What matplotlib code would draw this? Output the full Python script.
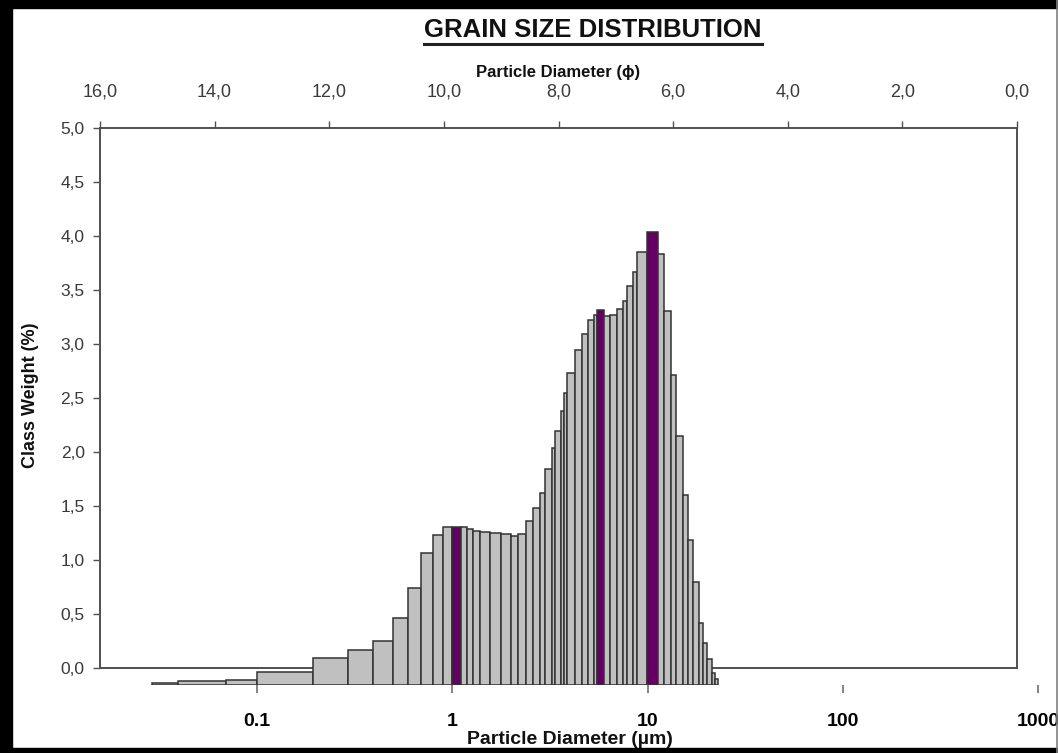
import numpy as np
import matplotlib
matplotlib.use('Agg')
import matplotlib.pyplot as plt
from matplotlib.ticker import FuncFormatter, NullLocator
from matplotlib.patches import Rectangle
from matplotlib.lines import Line2D

# class boundaries (um) and class weights (%)
edges_um = [0.0290, 0.0394, 0.0694, 0.1, 0.1936, 0.2924, 0.3927, 0.4971,
            0.5969, 0.6916, 0.7968, 0.8966, 0.997, 1.109, 1.190, 1.277,
            1.387, 1.561, 1.787, 2.000, 2.179, 2.386, 2.592, 2.815, 2.985,
            3.231, 3.360, 3.593, 3.736, 3.884, 4.254, 4.603, 4.975, 5.321,
            5.493, 5.987, 6.427, 6.958, 7.464, 7.879, 8.400, 8.868, 9.906,
            11.36, 12.15, 13.15, 14.05, 15.26, 16.18, 17.16, 18.36, 19.31,
            20.24, 21.32, 22.17, 23.05]
weights = [0.02, 0.04, 0.045, 0.12, 0.25, 0.32, 0.41, 0.62, 0.90, 1.22,
           1.39, 1.46, 1.46, 1.46, 1.44, 1.43, 1.42, 1.41, 1.40, 1.38,
           1.40, 1.52, 1.64, 1.78, 2.00, 2.19, 2.35, 2.54, 2.70, 2.89,
           3.10, 3.25, 3.38, 3.43, 3.47, 3.42, 3.43, 3.48, 3.56, 3.69,
           3.82, 4.01, 4.19, 3.99, 3.46, 2.87, 2.31, 1.76, 1.34, 0.95,
           0.57, 0.39, 0.24, 0.11, 0.06]
modes_um = [1.05, 5.7, 10.6]

phi_ticks = [16, 14, 12, 10, 8, 6, 4, 2, 0]
y_ticks = [0, 0.5, 1.0, 1.5, 2.0, 2.5, 3.0, 3.5, 4.0, 4.5, 5.0]
um_ticks = [0.1, 1, 10, 100, 1000]
um_labels = ['0.1', '1', '10', '100', '1000']

W, H = 1058, 753
FONT = ['Liberation Sans', 'DejaVu Sans']
plt.rcParams['font.family'] = FONT

fig = plt.figure(figsize=(W / 100, H / 100), dpi=100)


def box(x0, y0, x1, y1):
    # pixel box (origin top left) -> figure rect
    return [x0 / W, 1 - y1 / H, (x1 - x0) / W, (y1 - y0) / H]


comma = FuncFormatter(lambda v, p: f'{v:.1f}'.replace('.', ','))

# frame with phi scale on top
ax = fig.add_axes(box(100, 128, 1017, 668))
ax.set_xlim(16, 0)
ax.set_ylim(0, 5)
ax.set_xticks(phi_ticks)
ax.set_yticks(y_ticks)
ax.xaxis.set_major_formatter(comma)
ax.yaxis.set_major_formatter(comma)
ax.tick_params(axis='x', top=True, bottom=False, labeltop=True, labelbottom=False,
               length=5, width=1, color='#505050', pad=15, labelsize=13,
               labelcolor='#3a3a3a')
ax.tick_params(axis='y', length=5, width=1, color='#505050', pad=6,
               labelsize=12.5, labelcolor='#3a3a3a')
for s in ax.spines.values():
    s.set_color('#505050')
    s.set_linewidth(1.4)

# histogram on log um scale
px_dec = 195.25
ax2 = fig.add_axes(box(100, 128, 1040, 685))
ax2.set_zorder(2)
ax2.patch.set_visible(False)
ax2.set_xscale('log')
ax2.set_xlim(0.1 * 10 ** ((100 - 257) / px_dec), 0.1 * 10 ** ((1040 - 257) / px_dec))
ax2.set_ylim(0, (685 - 128) / 108)

edges = np.array(edges_um)
lefts = edges[:-1]
widths = np.diff(edges)
colors = []
for a, b in zip(edges[:-1], edges[1:]):
    hit = any(a <= m < b for m in modes_um)
    colors.append('#640064' if hit else '#c0c0c0')
ax2.bar(lefts, weights, width=widths, align='edge', color=colors,
        edgecolor='#333333', linewidth=1.1)

ax2.set_xticks(um_ticks)
ax2.set_xticklabels(um_labels, fontsize=14, fontweight='bold')
ax2.xaxis.set_minor_locator(NullLocator())
ax2.tick_params(axis='x', length=6, width=1.2, color='#707070', pad=14)
ax2.set_yticks([])
for s in ax2.spines.values():
    s.set_visible(False)

# texts
title = fig.text(593 / W, 1 - 30 / H, 'GRAIN SIZE DISTRIBUTION', ha='center',
                 va='center', fontsize=18.5, fontweight='bold', color='#111111')
fig.text(558 / W, 1 - 73 / H, 'Particle Diameter (ϕ)', ha='center', va='center',
         fontsize=12, fontweight='bold', color='#111111')
fig.text(31 / W, 1 - 395 / H, 'Class Weight (%)', ha='center', va='center',
         rotation=90, fontsize=13, fontweight='bold', color='#111111')
fig.text(570 / W, 1 - 739 / H, 'Particle Diameter (µm)', ha='center', va='center',
         fontsize=14, fontweight='bold', color='#111111')

fig.canvas.draw()
bb = title.get_window_extent()
fig.add_artist(Line2D([bb.x0 / W, bb.x1 / W], [(bb.y0 - 2) / H, (bb.y0 - 2) / H],
                      transform=fig.transFigure, color='#222222', linewidth=2.2))

# black border
for r in [(0, 0, 12 / W, 1), (0, 1 - 8 / H, 1, 8 / H), (0, 0, 1, 5 / H)]:
    fig.add_artist(Rectangle((r[0], r[1]), r[2], r[3], transform=fig.transFigure,
                             color='black', zorder=20))
fig.add_artist(Line2D([1056.5 / W, 1056.5 / W], [0, 1], transform=fig.transFigure,
                      color='#808080', linewidth=1.2, zorder=20))

fig.savefig('out.png', dpi=100)
